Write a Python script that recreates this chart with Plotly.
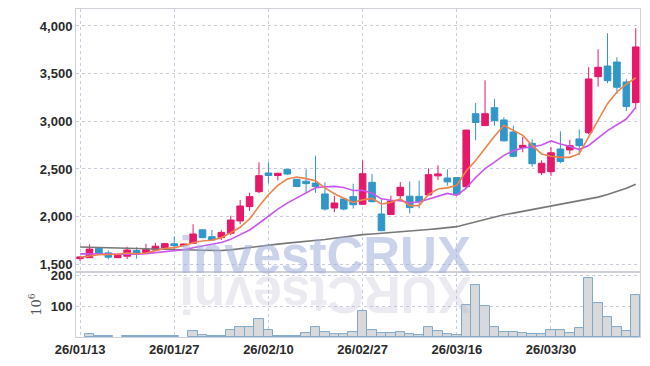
import plotly.graph_objects as go
from plotly.subplots import make_subplots

dates = [
    "26/01/13", "26/01/14", "26/01/15", "26/01/16", "26/01/19", "26/01/20", "26/01/21", "26/01/22", "26/01/23", "26/01/26",
    "26/01/27", "26/01/28", "26/01/29", "26/01/30", "26/02/02", "26/02/03", "26/02/04", "26/02/05", "26/02/06", "26/02/09",
    "26/02/10", "26/02/11", "26/02/12", "26/02/13", "26/02/19", "26/02/20", "26/02/23", "26/02/24", "26/02/25", "26/02/26",
    "26/02/27", "26/03/03", "26/03/04", "26/03/05", "26/03/06", "26/03/09", "26/03/10", "26/03/11", "26/03/12", "26/03/13",
    "26/03/16", "26/03/17", "26/03/18", "26/03/19", "26/03/20", "26/03/23", "26/03/24", "26/03/25", "26/03/26", "26/03/27",
    "26/03/30", "26/03/31", "26/04/01", "26/04/02", "26/04/03", "26/04/06", "26/04/07", "26/04/08", "26/04/09", "26/04/10",
]

open_ = [1560, 1570, 1668, 1620, 1570, 1585, 1645, 1620, 1650, 1675,
         1715, 1697, 1720, 1862, 1790, 1780, 1825, 1955, 2105, 2262,
         2458, 2432, 2497, 2392, 2372, 2352, 2238, 2091, 2185, 2210,
         2130, 2360, 2028, 2022, 2220, 2215, 2213, 2228, 2428, 2405,
         2410, 2315, 3080, 2955, 3143, 3014, 2888, 2725, 2769, 2461,
         2472, 2710, 2700, 2815, 2880, 3468, 3580, 3622, 3413, 3196]
high = [1580, 1710, 1675, 1645, 1600, 1685, 1680, 1715, 1725, 1725,
        1795, 1718, 1920, 1868, 1860, 1858, 2010, 2175, 2250, 2570,
        2570, 2460, 2500, 2395, 2497, 2640, 2360, 2217, 2190, 2345,
        2590, 2447, 2185, 2220, 2364, 2370, 2378, 2507, 2539, 2497,
        2415, 2912, 3192, 3430, 3235, 3042, 2955, 2836, 2811, 2591,
        2728, 2895, 2805, 2916, 3567, 3756, 3923, 3672, 3441, 3976]
low = [1535, 1565, 1612, 1553, 1565, 1555, 1560, 1615, 1645, 1672,
       1650, 1690, 1718, 1775, 1750, 1755, 1805, 1920, 2060, 2245,
       2350, 2380, 2440, 2310, 2250, 2250, 2063, 2046, 2065, 2085,
       2128, 2150, 1848, 2020, 2165, 2035, 2088, 2225, 2385, 2325,
       2230, 2300, 2800, 2950, 2955, 2790, 2622, 2675, 2524, 2437,
       2427, 2560, 2657, 2647, 2864, 3363, 3399, 3287, 3108, 3129]
close = [1578, 1660, 1616, 1575, 1595, 1650, 1620, 1655, 1690, 1717,
         1695, 1713, 1818, 1780, 1755, 1835, 1965, 2112, 2210, 2430,
         2432, 2455, 2447, 2316, 2346, 2316, 2080, 2143, 2080, 2125,
         2450, 2157, 1853, 2165, 2308, 2095, 2160, 2440, 2448, 2365,
         2235, 2908, 2988, 3080, 3007, 2795, 2633, 2748, 2555, 2560,
         2670, 2578, 2745, 2745, 3444, 3567, 3426, 3357, 3155, 3780]

ma_short = [1575, 1590, 1600, 1603, 1605, 1619, 1611, 1619, 1642, 1666,
            1675, 1694, 1727, 1745, 1752, 1780, 1831, 1889, 1975, 2110,
            2230, 2328, 2395, 2416, 2399, 2376, 2301, 2240, 2193, 2149,
            2176, 2191, 2133, 2150, 2187, 2116, 2116, 2234, 2290, 2302,
            2330, 2479, 2589, 2715, 2844, 2956, 2901, 2853, 2748, 2658,
            2633, 2622, 2622, 2660, 2836, 3016, 3185, 3308, 3390, 3457]
ma_mid = [1610, 1608, 1606, 1604, 1603, 1602, 1605, 1612, 1622, 1636,
          1647, 1653, 1673, 1693, 1709, 1728, 1762, 1808, 1860, 1931,
          2005, 2079, 2142, 2196, 2255, 2303, 2314, 2318, 2305, 2274,
          2276, 2246, 2187, 2172, 2168, 2146, 2154, 2183, 2220, 2244,
          2223, 2298, 2411, 2503, 2573, 2643, 2690, 2721, 2731, 2751,
          2794, 2761, 2737, 2704, 2747, 2824, 2903, 2964, 3024, 3146]
ma_long = [1682, 1680, 1678, 1676, 1674, 1672, 1669, 1666, 1663, 1660,
           1657, 1654, 1651, 1648, 1645, 1645, 1652, 1665, 1678, 1690,
           1702, 1712, 1722, 1731, 1740, 1748, 1761, 1774, 1787, 1800,
           1812, 1818, 1825, 1832, 1839, 1845, 1855, 1865, 1875, 1885,
           1895, 1920, 1945, 1970, 1995, 2020, 2037, 2055, 2072, 2090,
           2108, 2126, 2145, 2165, 2185, 2205, 2233, 2262, 2298, 2339]

volume = [None, 10, 3, 3, None, 3, 3, 3, 3, 3,
          3, None, 20, 6, 3, 3, 23, 33, 33, 58,
          23, 3, 3, 3, 13, 31, 16, 9, 9, 16,
          86, 23, 14, 14, 17, 11, 6, 33, 20, 11,
          6, 105, 169, 101, 33, 17, 17, 14, 10, 10,
          23, 23, 14, 29, 192, 112, 64, 33, 20, 137]

price_ticks = [1500, 2000, 2500, 3000, 3500, 4000]
volume_ticks = [100, 200]
date_ticks = dates[::10]

UP = "#e5186a"
DOWN = "#3196c8"
GRID = "#c9cbe0"
AXLINE = "#cfd0d8"
TICKFONT = dict(family="Liberation Sans, Arial, sans-serif", size=13, color="#2a2a2a", weight="bold")

fig = make_subplots(rows=2, cols=1, shared_xaxes=True, vertical_spacing=0,
                    row_heights=[0.802, 0.198])

fig.add_trace(go.Scatter(x=dates, y=ma_long, mode="lines",
                         line=dict(color="#787878", width=1.6), hoverinfo="skip"), row=1, col=1)
fig.add_trace(go.Scatter(x=dates, y=ma_mid, mode="lines",
                         line=dict(color="#cc55ee", width=1.6), hoverinfo="skip"), row=1, col=1)
fig.add_trace(go.Scatter(x=dates, y=ma_short, mode="lines",
                         line=dict(color="#f0824a", width=1.6), hoverinfo="skip"), row=1, col=1)
fig.add_trace(go.Candlestick(x=dates, open=open_, high=high, low=low, close=close,
                             increasing=dict(line=dict(color=UP, width=1), fillcolor=UP),
                             decreasing=dict(line=dict(color=DOWN, width=1), fillcolor=DOWN),
                             whiskerwidth=0), row=1, col=1)

fig.add_trace(go.Bar(x=dates, y=volume, marker=dict(color="#d9d9db",
                                                    line=dict(color="#7ea9cc", width=1))),
              row=2, col=1)

wm_font = dict(family="Liberation Sans, Arial, sans-serif", size=51, weight="bold")
fig.add_annotation(xref="paper", yref="paper", x=0.442, y=0.25, text="investCRUX",
                   showarrow=False, xanchor="center", yanchor="middle",
                   font=dict(color="rgba(160,174,218,0.55)", **wm_font))
fig.add_annotation(xref="paper", yref="paper", x=0.442, y=0.128, text="XURCtsevni",
                   textangle=180, showarrow=False, xanchor="center", yanchor="middle",
                   font=dict(color="rgba(185,185,205,0.3)", **wm_font))

axis_common = dict(showline=True, linecolor=AXLINE, linewidth=1, mirror=True,
                   showgrid=True, gridcolor=GRID, griddash="dot", gridwidth=1,
                   zeroline=False, ticks="", automargin=False)

fig.update_xaxes(type="category", range=[-0.43, 59.45], tickvals=date_ticks,
                 rangeslider=dict(visible=False), **axis_common)
fig.update_xaxes(showticklabels=False, row=1, col=1)
fig.update_xaxes(showticklabels=True, tickfont=TICKFONT, row=2, col=1)

fig.update_yaxes(range=[1419, 4178], tickvals=price_ticks, tickformat=",",
                 tickfont=TICKFONT, row=1, col=1, **axis_common)
fig.update_yaxes(range=[0, 212], tickvals=volume_ticks, tickfont=TICKFONT,
                 title=dict(text="10<sup>6</sup>", standoff=6,
                            font=dict(family="DejaVu Serif, serif", size=13, color="#555")),
                 row=2, col=1, **axis_common)

fig.update_layout(width=650, height=366, margin=dict(l=76, r=10, t=9, b=29),
                  paper_bgcolor="white", plot_bgcolor="white", showlegend=False,
                  bargap=0, boxgap=0.3, boxgroupgap=0)

fig.write_html("out.html", config={"displayModeBar": False},
               post_script="document.body.style.margin='0';document.body.style.overflow='hidden';")
